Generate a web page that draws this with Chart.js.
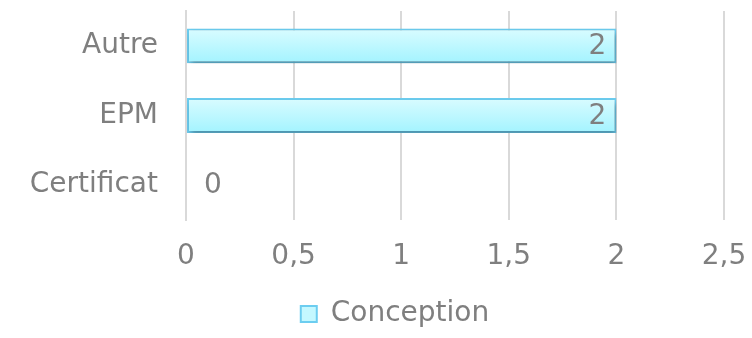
<!DOCTYPE html>
<html>
<head>
<meta charset="utf-8">
<script src="https://cdn.jsdelivr.net/npm/chart.js@4/dist/chart.umd.min.js"></script>
<style>
  html, body { margin: 0; padding: 0; background: #ffffff; }
  #wrap { width: 752px; height: 338px; }
</style>
</head>
<body>
<div id="wrap"><canvas id="chart" width="752" height="338"></canvas></div>
<script>
// données
const categories = ['Autre', 'EPM', 'Certificat'];
const conceptionValues = [2, 2, 0];
const seriesLabel = 'Conception';
const xTicks = [0, 0.5, 1, 1.5, 2, 2.5];

const textColor = '#7f7f7f';
const fontFamily = 'DejaVu Sans';
const fontSize = 28;

// dégradé vertical pour chaque barre
function barGradient(context) {
    const chart = context.chart;
    const yScale = chart.scales.y;
    if (!yScale || context.dataIndex === undefined) return '#b8f6ff';
    const center = yScale.getPixelForValue(context.dataIndex);
    const half = 18;
    const g = chart.ctx.createLinearGradient(0, center - half, 0, center + half);
    g.addColorStop(0, '#dafcff');
    g.addColorStop(1, '#a2f3ff');
    return g;
}

// ombre sous les barres
const shadowPlugin = {
    id: 'barShadow',
    beforeDatasetsDraw(chart) {
        const ctx = chart.ctx;
        ctx.save();
        ctx.shadowColor = 'rgba(0,0,0,0.3)';
        ctx.shadowBlur = 6;
        ctx.shadowOffsetX = 2;
        ctx.shadowOffsetY = 4;
    },
    afterDatasetsDraw(chart) {
        chart.ctx.restore();
    }
};

// étiquettes de valeur (extrémité intérieure)
const valueLabels = {
    id: 'valueLabels',
    afterDatasetsDraw(chart) {
        const ctx = chart.ctx;
        const meta = chart.getDatasetMeta(0);
        ctx.save();
        ctx.font = fontSize + 'px ' + fontFamily;
        ctx.fillStyle = textColor;
        ctx.textBaseline = 'middle';
        meta.data.forEach((bar, i) => {
            const v = conceptionValues[i];
            const txt = String(v).replace('.', ',');
            if (v > 0) {
                ctx.textAlign = 'right';
                ctx.fillText(txt, bar.x - 10, bar.y + 1);
            } else {
                ctx.textAlign = 'left';
                ctx.fillText(txt, bar.base + 18, bar.y + 1);
            }
        });
        ctx.restore();
    }
};

new Chart(document.getElementById('chart').getContext('2d'), {
    type: 'bar',
    data: {
        labels: categories,
        datasets: [{
            label: seriesLabel,
            data: conceptionValues,
            backgroundColor: barGradient,
            borderColor: '#6ccdf0',
            borderWidth: 2,
            borderSkipped: false,
            categoryPercentage: 1,
            barPercentage: 0.5
        }]
    },
    options: {
        indexAxis: 'y',
        responsive: false,
        animation: false,
        layout: { padding: { left: 10, right: -28, top: 11, bottom: 0 } },
        scales: {
            x: {
                min: 0,
                max: 2.5,
                afterBuildTicks(scale) {
                    scale.ticks = xTicks.map(v => ({ value: v }));
                },
                afterFit(scale) {
                    scale.paddingRight = 28;
                    scale.paddingLeft = 0;
                    scale.height = 78;
                },
                ticks: {
                    color: textColor,
                    font: { family: fontFamily, size: fontSize },
                    padding: 20,
                    callback: v => String(v).replace('.', ',')
                },
                grid: { color: '#d9d9d9', lineWidth: 2, drawTicks: false },
                border: { display: false }
            },
            y: {
                ticks: {
                    color: textColor,
                    font: { family: fontFamily, size: fontSize },
                    padding: 28
                },
                grid: { display: false, drawTicks: false },
                border: { display: true, color: '#d9d9d9', width: 2 },
                afterFit(scale) {
                    scale.width = 176;
                    scale.paddingTop = 0;
                    scale.paddingBottom = 0;
                }
            }
        },
        plugins: {
            legend: {
                position: 'bottom',
                labels: {
                    color: textColor,
                    font: { family: fontFamily, size: fontSize },
                    boxWidth: 16,
                    boxHeight: 16,
                    padding: 2,
                    generateLabels() {
                        return [{
                            text: seriesLabel,
                            fillStyle: '#c4f8ff',
                            strokeStyle: '#6ccdf0',
                            lineWidth: 2,
                            fontColor: textColor,
                            hidden: false,
                            datasetIndex: 0
                        }];
                    }
                }
            },
            tooltip: { enabled: false }
        }
    },
    plugins: [shadowPlugin, valueLabels]
});
</script>
</body>
</html>
